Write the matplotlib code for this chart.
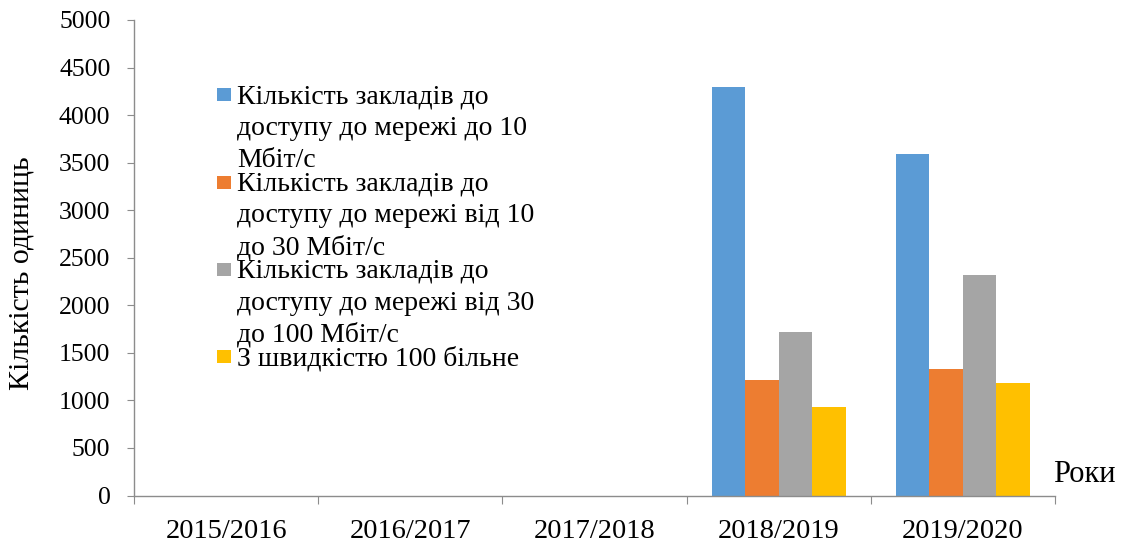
import numpy as np
import matplotlib
matplotlib.use("Agg")
import matplotlib.pyplot as plt
from matplotlib.patches import Rectangle

plt.rcParams['font.family'] = ['Liberation Serif', 'DejaVu Serif']

years = ['2015/2016', '2016/2017', '2017/2018', '2018/2019', '2019/2020']
upto10 = [0, 0, 0, 4300, 3595]
from10to30 = [0, 0, 0, 1215, 1333]
from30to100 = [0, 0, 0, 1716, 2322]
over100 = [0, 0, 0, 927, 1183]

labels = ['Кількість закладів до\nдоступу до мережі до 10\nМбіт/с',
          'Кількість закладів до\nдоступу до мережі від 10\nдо 30 Мбіт/с',
          'Кількість закладів до\nдоступу до мережі від 30\nдо 100 Мбіт/с',
          'З швидкістю 100 більне']
colors = ['#5B9BD5', '#ED7D31', '#A5A5A5', '#FFC000']
series = [upto10, from10to30, from30to100, over100]

W, H = 1121, 545
fig = plt.figure(figsize=(W / 100, H / 100), dpi=100)
ax = fig.add_axes([134 / W, 1 - 495.5 / H, 921 / W, 475.5 / H])

def fx(px):
    return px / W

def fy(py):
    return 1 - py / H

x = np.arange(len(years))
bw = 0.182
for i, (vals, col) in enumerate(zip(series, colors)):
    ax.bar(x + (i - 1.5) * bw, vals, bw, color=col, linewidth=0)

ax.set_xlim(-0.5, len(years) - 0.5)
ax.set_ylim(0, 5000)
ax.set_yticks(np.arange(0, 5001, 500))

axcol = '#8C8C8C'
for s in ['top', 'right']:
    ax.spines[s].set_visible(False)
for s in ['left', 'bottom']:
    ax.spines[s].set_color(axcol)
    ax.spines[s].set_linewidth(1.0)

# category boundaries get the tick marks, centres get the labels
ax.set_xticks(np.arange(-0.5, len(years) + 0.5, 1))
ax.set_xticklabels([])
ax.set_xticks(x, minor=True)
ax.set_xticklabels(years, minor=True, fontsize=20.5)
ax.tick_params(axis='x', which='major', length=6, color=axcol, direction='out')
ax.tick_params(axis='x', which='minor', length=0, pad=17)
ax.tick_params(axis='y', length=5, color=axcol, pad=12, labelsize=18.5)

fig.text(fx(22), fy(273), 'Кількість одиниць', rotation=90,
         ha='center', va='center', fontsize=21.5)
fig.text(fx(1053), fy(482), 'Роки', ha='left', va='baseline', fontsize=22)

# legend drawn by hand to match the overlapping entries
base0 = 103.3
step = 87.3
lsp = 31.8
for i, (lab, col) in enumerate(zip(labels, colors)):
    b = base0 + i * step
    fig.add_artist(Rectangle((fx(217), fy(b - 2)), 14 / W, 13 / H,
                             transform=fig.transFigure, color=col, lw=0))
    for j, line in enumerate(lab.split('\n')):
        fig.text(fx(237), fy(b + j * lsp), line, ha='left', va='baseline',
                 fontsize=20)

fig.savefig('out.png', dpi=100)
